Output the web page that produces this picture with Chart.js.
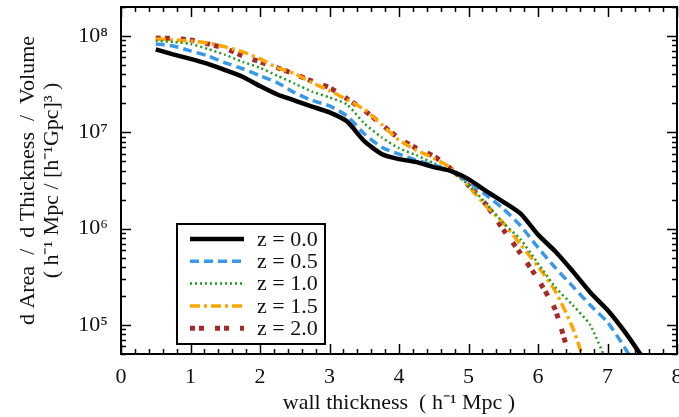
<!DOCTYPE html>
<html>
<head>
<meta charset="utf-8">
<script src="https://cdn.jsdelivr.net/npm/chart.js@4.4.1/dist/chart.umd.min.js"></script>
<style>
    html, body { margin: 0; padding: 0; background: #fff; }
    #wrap { width: 679px; height: 417px; }
</style>
</head>
<body>
<div id="wrap"><canvas id="wallChart" width="679" height="417"></canvas></div>
<script>
// wall thickness (h^-1 Mpc)
const thickness = [0.5, 0.75, 1.0, 1.25, 1.5, 1.75, 2.0, 2.25, 2.5, 2.75, 3.0, 3.25, 3.5, 3.75,
    4.0, 4.25, 4.5, 4.75, 5.0, 5.25, 5.5, 5.75, 6.0, 6.25, 6.5, 6.75, 7.0, 7.25, 7.5];

const z00 = [7.26e7, 6.44e7, 5.79e7, 5.14e7, 4.43e7, 3.78e7, 3.02e7, 2.47e7, 2.14e7, 1.85e7, 1.61e7, 1.30e7,
    8.11e6, 5.96e6, 5.27e6, 4.91e6, 4.36e6, 3.96e6, 3.27e6, 2.47e6, 1.90e6, 1.43e6, 8.67e5, 5.79e5,
    3.61e5, 2.19e5, 1.43e5, 8.47e4, 4.68e4];
const z05 = [8.28e7, 7.89e7, 7.00e7, 6.22e7, 5.27e7, 4.57e7, 3.87e7, 3.27e7, 2.58e7, 2.14e7, 1.88e7, 1.48e7,
    9.68e6, 7.00e6, 5.93e6, 5.14e6, 4.57e6, 3.96e6, 3.06e6, 2.24e6, 1.61e6, 1.07e6, 6.37e5, 3.91e5,
    2.52e5, 1.61e5, 1.07e5, 5.79e4, 2.77e4];
const z10 = [8.87e7, 8.67e7, 8.28e7, 7.34e7, 6.37e7, 5.39e7, 4.68e7, 3.87e7, 3.20e7, 2.65e7, 2.30e7, 1.95e7,
    1.24e7, 8.87e6, 6.84e6, 5.79e6, 4.79e6, 3.96e6, 2.84e6, 1.84e6, 1.15e6, 7.71e5, 4.36e5, 2.47e5,
    1.61e5, 1.00e5, 3.96e4, null, null];
const z15 = [9.31e7, 9.10e7, 8.87e7, 8.47e7, 7.71e7, 6.84e7, 5.79e7, 4.68e7, 4.06e7, 3.27e7, 2.71e7, 2.19e7,
    1.73e7, 1.21e7, 8.28e6, 6.52e6, 5.39e6, 4.26e6, 2.77e6, 1.73e6, 1.15e6, 6.84e5, 4.06e5, 2.24e5,
    9.31e4, 2.77e4, null, null, null];
const z20 = [9.53e7, 9.42e7, 9.10e7, 8.28e7, 7.43e7, 6.22e7, 5.39e7, 4.68e7, 4.01e7, 3.40e7, 2.91e7, 2.24e7,
    1.69e7, 1.21e7, 8.67e6, 6.84e6, 5.66e6, 4.16e6, 2.81e6, 1.79e6, 9.77e5, 5.52e5, 2.98e5, 1.43e5,
    3.52e4, null, null, null, null];

const seriesLabels = ["z = 0.0", "z = 0.5", "z = 1.0", "z = 1.5", "z = 2.0"];
const yTickValues = [1e5, 1e6, 1e7, 1e8];
const xTickValues = [0, 1, 2, 3, 4, 5, 6, 7, 8];

const FONT = "'Liberation Serif', 'Times New Roman', serif";
const SUP = { "0": "\u2070", "1": "\u00b9", "2": "\u00b2", "3": "\u00b3", "4": "\u2074",
    "5": "\u2075", "6": "\u2076", "7": "\u2077", "8": "\u2078", "9": "\u2079" };

function toPoints(values) {
    return values.map((v, i) => ({ x: thickness[i], y: v }));
}

function makeDataset(label, values, color, width, dash) {
    return {
        label: label,
        data: toPoints(values),
        borderColor: color,
        borderWidth: width,
        borderDash: dash,
        borderCapStyle: "butt",
        pointRadius: 0,
        tension: 0.2,
        fill: false,
        spanGaps: false
    };
}

function noPadding(scale) {
    scale.paddingTop = 0;
    scale.paddingBottom = 0;
    scale.paddingLeft = 0;
    scale.paddingRight = 0;
}

// inward ticks on all four sides, the frame, and the inset legend
const framePlugin = {
    id: "frame",
    afterDatasetsDraw(chart) {
        const { ctx, chartArea: a, scales: { x, y } } = chart;
        ctx.save();
        ctx.strokeStyle = "#000";
        ctx.lineWidth = 1.5;
        ctx.setLineDash([]);

        // x ticks
        for (let i = 0; i <= 40; i++) {
            const v = i / 5;
            const px = Math.round(x.getPixelForValue(v)) + 0.5;
            const len = i % 5 === 0 ? 10 : 5;
            ctx.beginPath();
            ctx.moveTo(px, a.bottom); ctx.lineTo(px, a.bottom - len);
            ctx.moveTo(px, a.top); ctx.lineTo(px, a.top + len);
            ctx.stroke();
        }
        // y ticks (log)
        for (let e = 4; e <= 8; e++) {
            for (let m = 1; m <= 9; m++) {
                const v = m * Math.pow(10, e);
                if (v < y.min || v > y.max) continue;
                const py = Math.round(y.getPixelForValue(v)) + 0.5;
                const len = m === 1 ? 10 : 5;
                ctx.beginPath();
                ctx.moveTo(a.left, py); ctx.lineTo(a.left + len, py);
                ctx.moveTo(a.right, py); ctx.lineTo(a.right - len, py);
                ctx.stroke();
            }
        }
        // frame
        ctx.lineWidth = 2;
        ctx.strokeRect(a.left, a.top, a.right - a.left, a.bottom - a.top);

        // legend box
        const lx = 177, ly = 224, lw = 148, lh = 120;
        ctx.fillStyle = "#fff";
        ctx.fillRect(lx, ly, lw, lh);
        ctx.strokeRect(lx, ly, lw, lh);
        ctx.font = "22px " + FONT;
        ctx.textBaseline = "middle";
        ctx.textAlign = "left";
        chart.data.datasets.forEach((ds, i) => {
            const cy = 239 + i * 22.3;
            ctx.save();
            ctx.strokeStyle = ds.borderColor;
            ctx.lineWidth = ds.borderWidth;
            ctx.setLineDash(ds.borderDash || []);
            ctx.beginPath();
            ctx.moveTo(190, cy); ctx.lineTo(244, cy);
            ctx.stroke();
            ctx.restore();
            ctx.fillStyle = "#111";
            ctx.fillText(ds.label, 257, cy + 1);
        });
        ctx.restore();
    }
};

const config = {
    type: "line",
    data: {
        datasets: [
            makeDataset(seriesLabels[0], z00, "#000000", 4.5, []),
            makeDataset(seriesLabels[1], z05, "#3a98e8", 3.5, [9, 5]),
            makeDataset(seriesLabels[2], z10, "#1f9a1f", 2.5, [2, 3]),
            makeDataset(seriesLabels[3], z15, "#ffa500", 3.5, [10, 4, 3, 4]),
            makeDataset(seriesLabels[4], z20, "#a52a2a", 5, [5, 4, 5, 11])
        ]
    },
    options: {
        responsive: false,
        animation: false,
        devicePixelRatio: 1,
        layout: {
            padding: { top: 7, right: 2, left: 0, bottom: 0 }
        },
        plugins: {
            legend: { display: false },
            tooltip: { enabled: false }
        },
        scales: {
            x: {
                type: "linear",
                min: 0,
                max: 8,
                offset: false,
                grid: { display: false, drawTicks: false },
                border: { display: false },
                afterBuildTicks: function (scale) {
                    scale.ticks = xTickValues.map(v => ({ value: v }));
                },
                afterFit: function (scale) {
                    scale.height = 63;
                    noPadding(scale);
                },
                ticks: {
                    autoSkip: false,
                    maxRotation: 0,
                    padding: 10,
                    color: "#111",
                    font: { family: FONT, size: 22 },
                    callback: v => String(v)
                },
                title: {
                    display: true,
                    text: "wall thickness  ( h\u207b\u00b9 Mpc )",
                    color: "#111",
                    font: { family: FONT, size: 22 },
                    padding: { top: 0, bottom: 1 }
                }
            },
            y: {
                type: "logarithmic",
                min: 5e4,
                max: 2e8,
                grid: { display: false, drawTicks: false },
                border: { display: false },
                afterBuildTicks: function (scale) {
                    scale.ticks = yTickValues.map(v => ({ value: v, major: true }));
                },
                afterFit: function (scale) {
                    scale.width = 121;
                    noPadding(scale);
                },
                ticks: {
                    autoSkip: false,
                    padding: 13,
                    color: "#111",
                    font: { family: FONT, size: 22 },
                    callback: function (v) {
                        const e = String(Math.round(Math.log10(v)));
                        return "10" + e.split("").map(c => SUP[c]).join("");
                    }
                },
                title: {
                    display: true,
                    text: ["d Area  /  d Thickness  /  Volume", "( h\u207b\u00b9 Mpc / [h\u207b\u00b9Gpc]\u00b3 )"],
                    color: "#111",
                    font: { family: FONT, size: 22, lineHeight: 1.1 },
                    padding: { top: 16, bottom: 0 }
                }
            }
        }
    },
    plugins: [framePlugin]
};

const wallChart = new Chart(document.getElementById("wallChart").getContext("2d"), config);
</script>
</body>
</html>
